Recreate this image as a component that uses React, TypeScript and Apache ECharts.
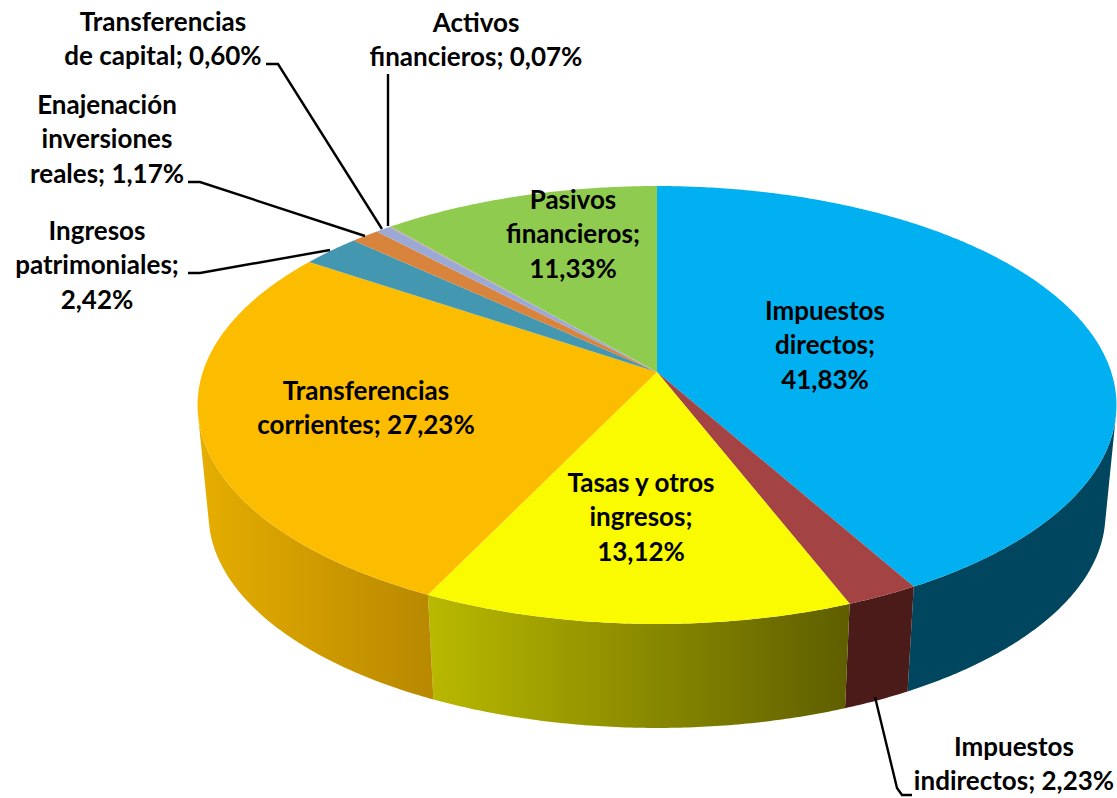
import React, { useEffect, useRef } from "react";
import * as echarts from "echarts";

const categories = [
  "Impuestos directos",
  "Impuestos indirectos",
  "Tasas y otros ingresos",
  "Transferencias corrientes",
  "Ingresos patrimoniales",
  "Enajenación inversiones reales",
  "Transferencias de capital",
  "Activos financieros",
  "Pasivos financieros",
];
const values = [41.83, 2.23, 13.12, 27.23, 2.42, 1.17, 0.6, 0.07, 11.33];
const labelTexts = [
  "Impuestos\ndirectos;\n41,83%",
  "Impuestos\nindirectos; 2,23%",
  "Tasas y otros\ningresos;\n13,12%",
  "Transferencias\ncorrientes; 27,23%",
  "Ingresos\npatrimoniales;\n2,42%",
  "Enajenación\ninversiones\nreales; 1,17%",
  "Transferencias\nde capital; 0,60%",
  "Activos\nfinancieros; 0,07%",
  "Pasivos\nfinancieros;\n11,33%",
];

// Styling and placement, kept apart from the data
const topColors = ["#00B0F0", "#A44343", "#FAFA00", "#FCBD00", "#4397B1", "#D8843C", "#9BA9D4", "#C5A0A0", "#8FCB4E"];
const sideColors: (string | [string, string])[] = [
  "#00465F",
  "#4A1B18",
  ["#B9B900", "#5E5E00"],
  ["#E6AE00", "#B88800"],
  "#2A5F70",
  "#8A5426",
  "#626C88",
  "#7E6666",
  "#5B8232",
];
const labelCenters = [
  [825, 344],
  [1014, 763],
  [641, 516],
  [366, 407],
  [97, 264],
  [107, 138],
  [163, 38],
  [476, 39],
  [573, 233],
];
const leaders: number[][][] = [
  [],
  [[875, 697], [897, 788], [902, 795], [912, 795]],
  [],
  [],
  [[188, 273], [200, 273], [330, 250]],
  [[188, 182], [200, 182], [365, 236]],
  [[266, 64], [278, 64], [382, 229]],
  [[388, 74], [388, 226]],
  [],
];

// Projection of the pie's circle to the page
const CX = 657;
const CY = 372;
const PX = 454.2;
const PY = 214;
const PC = -0.1507;
const WALL_SCALE = 0.976;
const WALL_DROP = 110;

const project = (deg: number, lower: boolean): number[] => {
  const t = (deg * Math.PI) / 180;
  const u = Math.sin(t);
  const v = -Math.cos(t);
  const d = 1 + PC * v;
  const x = (PX * u) / d;
  const y = (PY * v) / d;
  return lower
    ? [CX + WALL_SCALE * x, CY + WALL_DROP + WALL_SCALE * y]
    : [CX + x, CY + y];
};

// The angle at which the wall turns away from the viewer: the joining line
// between the top and bottom rims is tangent to the rim there.
const silhouette = (from: number, to: number): number => {
  const cross = (a: number) => {
    const p = project(a, false);
    const q = project(a + 0.01, false);
    const l = project(a, true);
    return (q[0] - p[0]) * (l[1] - p[1]) - (q[1] - p[1]) * (l[0] - p[0]);
  };
  let lo = from;
  let hi = to;
  const s = cross(lo);
  for (let k = 0; k < 50; k++) {
    const m = (lo + hi) / 2;
    if (cross(m) * s > 0) lo = m;
    else hi = m;
  }
  return lo;
};
const WALL_START = silhouette(30, 150);
const WALL_END = silhouette(210, 330);

const total = values.reduce((a, b) => a + b, 0);
const angleRange = (i: number): [number, number] => {
  let before = 0;
  for (let k = 0; k < i; k++) before += values[k];
  return [(before / total) * 360, ((before + values[i]) / total) * 360];
};

const arc = (a0: number, a1: number, lower: boolean): number[][] => {
  const n = Math.max(2, Math.ceil(Math.abs(a1 - a0) / 0.5));
  const pts: number[][] = [];
  for (let k = 0; k <= n; k++) pts.push(project(a0 + ((a1 - a0) * k) / n, lower));
  return pts;
};

export default function App() {
  const ref = useRef<HTMLDivElement>(null);
  useEffect(() => {
    document.body.style.margin = "0";
    document.body.style.background = "#fff";
    const chart = echarts.init(ref.current!, undefined, { renderer: "svg" });
    const seriesData = categories.map((name, i) => ({ name, value: values[i] }));
    chart.setOption({
      animation: false,
      backgroundColor: "#ffffff",
      series: [
        {
          type: "custom",
          coordinateSystem: "none",
          silent: true,
          z: 1,
          data: seriesData,
          renderItem: (params: any) => {
            const i = params.dataIndex;
            const [r0, r1] = angleRange(i);
            const a0 = Math.max(r0, WALL_START);
            const a1 = Math.min(r1, WALL_END);
            if (a1 <= a0) return { type: "group", children: [] };
            const c = sideColors[i];
            const fill = Array.isArray(c)
              ? new echarts.graphic.LinearGradient(0, 0, 1, 0, [
                  { offset: 0, color: c[0] },
                  { offset: 1, color: c[1] },
                ])
              : c;
            return {
              type: "polygon",
              shape: { points: [...arc(a0, a1, false), ...arc(a1, a0, true)] },
              style: { fill },
            };
          },
        },
        {
          type: "custom",
          coordinateSystem: "none",
          silent: true,
          z: 2,
          data: seriesData,
          renderItem: (params: any) => {
            const i = params.dataIndex;
            const [a0, a1] = angleRange(i);
            return {
              type: "polygon",
              shape: { points: [[CX, CY], ...arc(a0, a1, false)] },
              style: { fill: topColors[i] },
            };
          },
        },
        {
          type: "custom",
          coordinateSystem: "none",
          silent: true,
          z: 3,
          data: seriesData,
          renderItem: (params: any) => {
            const i = params.dataIndex;
            const children: any[] = [];
            if (leaders[i].length) {
              children.push({
                type: "polyline",
                shape: { points: leaders[i] },
                style: { stroke: "#000", lineWidth: 2.4, fill: "none" },
              });
            }
            children.push({
              type: "text",
              style: {
                text: labelTexts[i],
                x: labelCenters[i][0],
                y: labelCenters[i][1],
                align: "center",
                verticalAlign: "middle",
                fontFamily: "Lato",
                fontWeight: "bold",
                fontSize: 26,
                lineHeight: 34.5,
                fill: "#000",
              },
            });
            return { type: "group", children };
          },
        },
      ],
    });
    return () => chart.dispose();
  }, []);
  return <div ref={ref} style={{ width: 1117, height: 798 }} />;
}
